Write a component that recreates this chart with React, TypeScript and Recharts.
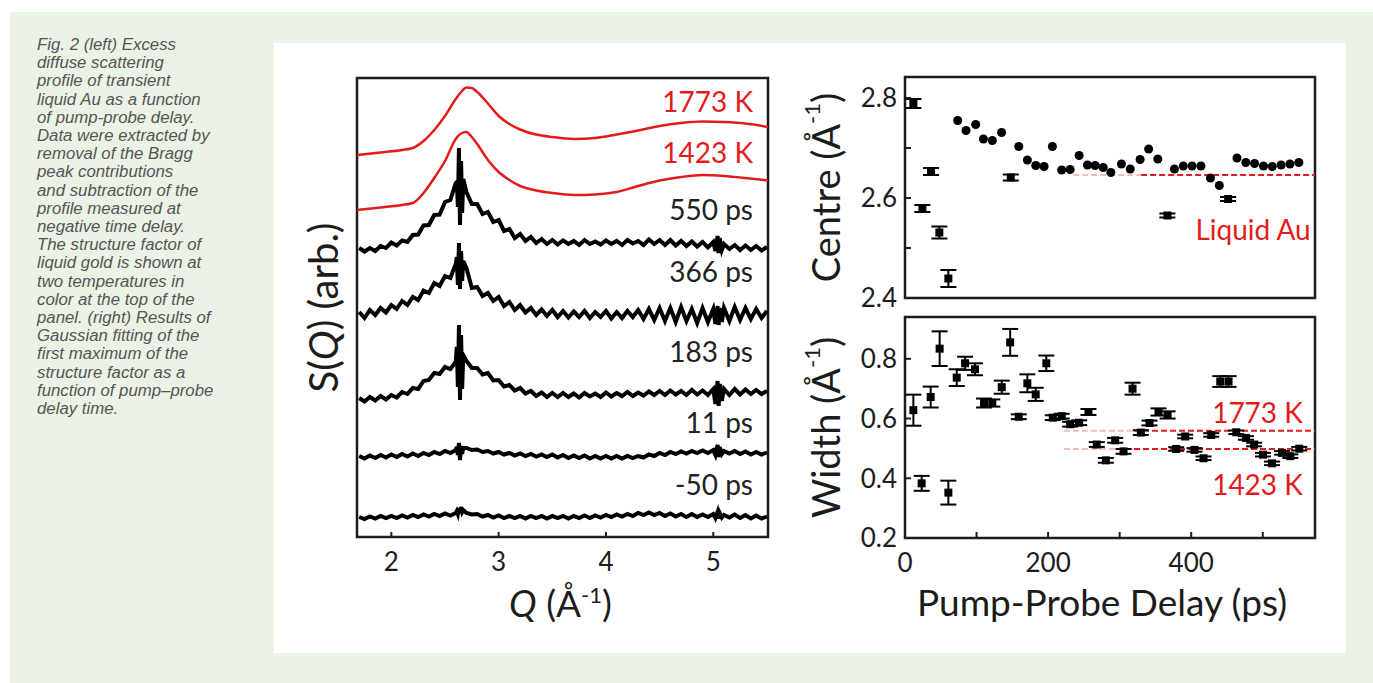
import React from 'react';
import {
  LineChart, Line, XAxis, YAxis, ReferenceArea, ReferenceDot, ReferenceLine,
  ScatterChart, Scatter, ErrorBar, Label,
} from 'recharts';

const FONT = 'Lato, "Noto Sans", sans-serif';
const INK = '#1c1c1c';
const RED = '#e31b1b';

// ---------- caption ----------
const captionLines = [
  'Fig. 2 (left) Excess',
  'diffuse scattering',
  'profile of transient',
  'liquid Au as a function',
  'of pump-probe delay.',
  'Data were extracted by',
  'removal of the Bragg',
  'peak contributions',
  'and subtraction of the',
  'profile measured at',
  'negative time delay.',
  'The structure factor of',
  'liquid gold is shown at',
  'two temperatures in',
  'color at the top of the',
  'panel. (right) Results of',
  'Gaussian fitting of the',
  'first maximum of the',
  'structure factor as a',
  'function of pump\u2013probe',
  'delay time.',
];

// ---------- left panel: S(Q) traces (offset, arb. units) ----------
const qGrid = [
  1.70, 1.75, 1.80, 1.85, 1.90, 1.95, 2.00, 2.05, 2.10, 2.15, 2.20, 2.25, 2.30, 2.35, 2.40, 2.45, 2.50, 2.55, 2.60,
  2.61, 2.62, 2.63, 2.64, 2.65, 2.66, 2.67,
  2.70, 2.75, 2.80, 2.85, 2.90, 2.95, 3.00, 3.05, 3.10, 3.15, 3.20, 3.25, 3.30, 3.35, 3.40, 3.45, 3.50,
  3.55, 3.60, 3.65, 3.70, 3.75, 3.80, 3.85, 3.90, 3.95, 4.00, 4.05, 4.10, 4.15, 4.20, 4.25, 4.30, 4.35, 4.40, 4.45, 4.50,
  4.55, 4.60, 4.65, 4.70, 4.75, 4.80, 4.85, 4.90, 4.95, 5.00,
  5.02, 5.04, 5.05, 5.06, 5.08,
  5.10, 5.15, 5.20, 5.25, 5.30, 5.35, 5.40, 5.45, 5.50,
];

const s550 = [
  28.9, 28.55, 28.9, 28.6, 29.1, 28.9, 29.45, 29.15, 29.65, 29.5, 30.2, 30.25, 31.15, 31.2, 32.2, 32.25, 33.5, 33.7, 35.4,
  35.5, 33.0, 38.9, 31.2, 37.6, 32.4, 35.8,
  34.5, 33.3, 33.3, 32.3, 32.5, 31.5, 31.7, 30.6, 30.8, 29.9, 30.3, 29.6, 30.0, 29.4, 29.8, 29.3, 29.7,
  29.25, 29.65, 29.3, 29.6, 29.2, 29.7, 29.3, 29.55, 29.25, 29.65, 29.3, 29.6, 29.2, 29.7, 29.35, 29.6, 29.2, 29.75, 29.3, 29.7,
  29.2, 29.7, 29.15, 29.6, 29.1, 29.55, 29.05, 29.5, 28.95, 29.5,
  28.6, 30.1, 28.4, 29.9, 28.7,
  29.3, 28.8, 29.2, 28.7, 29.15, 28.7, 29.1, 28.65, 29.0,
];

const s366 = [
  22.5, 21.9, 22.7, 22.2, 22.9, 22.45, 23.2, 22.8, 23.6, 23.2, 24.0, 23.7, 24.65, 24.4, 25.4, 25.1, 26.1, 25.9, 27.3,
  28.0, 25.2, 29.4, 24.8, 28.6, 25.6, 27.6,
  26.9, 24.9, 25.0, 24.1, 24.4, 23.6, 24.0, 23.1, 23.5, 22.7, 23.2, 22.45, 22.9, 22.2, 22.75, 22.1, 22.7,
  22.0, 22.6, 21.95, 22.55, 22.0, 22.6, 21.9, 22.5, 22.0, 22.6, 21.85, 22.5, 21.9, 22.6, 22.0, 22.7, 21.8, 22.8, 21.7, 22.9,
  21.6, 22.9, 21.5, 23.0, 21.6, 22.8, 21.4, 22.9, 21.5, 22.8,
  21.3, 23.1, 21.2, 22.9, 21.5,
  22.9, 21.6, 23.0, 21.7, 22.9, 21.8, 22.8, 21.9, 22.6,
];

const s183 = [
  13.9, 13.55, 14.0, 13.65, 14.1, 13.75, 14.2, 13.95, 14.5, 14.3, 14.9, 14.8, 15.6, 15.7, 16.4, 16.3, 17.0, 16.8, 17.5,
  19.0, 15.0, 21.2, 13.7, 20.2, 14.8, 18.2,
  17.6, 16.9, 16.9, 16.25, 16.4, 15.65, 15.7, 15.05, 15.2, 14.65, 14.9, 14.35, 14.6, 14.1, 14.45, 14.0, 14.4,
  14.0, 14.4, 14.0, 14.35, 13.95, 14.4, 14.05, 14.35, 14.0, 14.45, 14.05, 14.4, 14.1, 14.5, 14.1, 14.45, 14.15, 14.55, 14.2, 14.6,
  14.2, 14.65, 14.25, 14.6, 14.2, 14.7, 14.25, 14.65, 14.2, 14.8,
  13.3, 15.6, 13.1, 15.3, 13.6,
  14.8, 14.2, 14.8, 14.25, 14.75, 14.3, 14.7, 14.3, 14.6,
];

const s11 = [
  8.1, 7.85, 8.15, 7.9, 8.2, 7.95, 8.25, 8.0, 8.3, 8.05, 8.35, 8.1, 8.4, 8.2, 8.5, 8.3, 8.6, 8.4, 8.7,
  9.0, 8.2, 9.4, 7.7, 9.1, 8.3, 8.9,
  8.9, 8.7, 8.75, 8.5, 8.6, 8.35, 8.5, 8.25, 8.4, 8.15, 8.35, 8.1, 8.3, 8.05, 8.25, 8.0, 8.25,
  7.95, 8.2, 7.9, 8.15, 7.9, 8.15, 7.85, 8.1, 7.85, 8.1, 7.85, 8.1, 7.85, 8.1, 7.9, 8.1, 7.95, 8.25, 8.1, 8.4,
  8.2, 8.5, 8.3, 8.55, 8.35, 8.6, 8.4, 8.65, 8.4, 8.7,
  8.2, 9.2, 8.0, 9.0, 8.3,
  8.6, 8.35, 8.6, 8.3, 8.55, 8.25, 8.5, 8.25, 8.45,
];

const sMinus50 = [
  2.0, 1.8, 2.05, 1.85, 2.1, 1.9, 2.1, 1.9, 2.15, 1.95, 2.2, 2.0, 2.25, 2.05, 2.3, 2.1, 2.35, 2.15, 2.4,
  2.6, 2.3, 2.9, 2.4, 3.0, 2.5, 2.7,
  2.4, 2.25, 2.3, 2.05, 2.2, 1.95, 2.15, 1.9, 2.1, 1.9, 2.1, 1.85, 2.1, 1.9, 2.1, 1.85, 2.1,
  1.9, 2.1, 1.85, 2.1, 1.9, 2.15, 1.9, 2.15, 1.95, 2.2, 2.0, 2.25, 2.05, 2.3, 2.1, 2.4, 2.2, 2.45, 2.2, 2.4,
  2.1, 2.35, 2.05, 2.3, 2.0, 2.3, 2.0, 2.25, 2.0, 2.3,
  1.9, 2.5, 1.85, 2.4, 1.95,
  2.2, 1.95, 2.25, 1.9, 2.2, 1.85, 2.15, 1.85, 2.05,
];

// liquid Au structure factor (red curves)
const qRed = [1.68, 1.9, 2.1, 2.2, 2.3, 2.4, 2.5, 2.6, 2.65, 2.7, 2.75, 2.8, 2.9, 3.0, 3.1, 3.2, 3.35, 3.5, 3.7, 3.9, 4.1, 4.3, 4.5, 4.7, 4.9, 5.1, 5.3, 5.51];
const s1773K = [38.2, 38.45, 38.7, 38.9, 39.6, 40.7, 42.1, 43.8, 44.5, 44.95, 44.9, 44.5, 43.35, 42.1, 41.3, 40.75, 40.25, 40.0, 39.8, 39.9, 40.25, 40.65, 41.1, 41.4, 41.55, 41.5, 41.35, 41.0];
const s1423K = [32.7, 32.95, 33.2, 33.4, 34.4, 35.9, 37.6, 39.8, 40.35, 40.5, 40.0, 39.3, 37.7, 36.5, 35.7, 35.1, 34.65, 34.4, 34.2, 34.25, 34.5, 35.1, 35.65, 36.0, 36.2, 36.1, 35.9, 35.65];

const qTicks = [2, 3, 4, 5];
const traceNames = ['1773 K', '1423 K', '550 ps', '366 ps', '183 ps', '11 ps', '-50 ps'];
const traceTagLevels = [42.5, 37.4, 31.7, 25.5, 17.5, 10.4, 4.2];

// ---------- right panels ----------
const centreSquareT = [11.7, 24.3, 36.4, 48.0, 60.6, 147.8, 366.7, 451.6];
const centreSquareC = [2.789, 2.579, 2.653, 2.531, 2.439, 2.641, 2.565, 2.598];
const centreSquareErr = [0.009, 0.007, 0.007, 0.012, 0.017, 0.006, 0.004, 0.004];

const centreCircleT = [73.6, 85.3, 98.8, 109.6, 122.0, 135.0, 159.0, 171.0, 182.7, 194.4, 206.0, 219.0, 230.8, 243.4, 255.0, 265.7, 277.0, 287.7, 302.5, 314.8, 328.6, 340.5, 353.3, 376.5, 388.9, 401.2, 413.6, 426.9, 439.3, 464.0, 476.3, 488.6, 501.0, 513.3, 525.7, 538.0, 550.4];
const centreCircleC = [2.755, 2.735, 2.747, 2.718, 2.715, 2.731, 2.703, 2.676, 2.665, 2.663, 2.703, 2.656, 2.657, 2.685, 2.666, 2.665, 2.661, 2.651, 2.668, 2.658, 2.677, 2.698, 2.678, 2.658, 2.664, 2.664, 2.664, 2.64, 2.625, 2.68, 2.671, 2.669, 2.664, 2.663, 2.666, 2.668, 2.671];

const widthT = [11.7, 23.3, 35.9, 48.4, 60.6, 72.3, 84.0, 97.8, 110.5, 122.0, 135.2, 147.0, 159.0, 171.0, 182.7, 197.5, 206.5, 219.0, 230.8, 243.4, 256.4, 268.0, 280.7, 293.7, 305.4, 318.0, 329.6, 341.7, 354.3, 367.0, 379.0, 391.6, 404.6, 417.2, 428.0, 440.6, 452.2, 463.0, 476.5, 488.0, 500.3, 512.9, 527.0, 538.5, 551.0];
const widthW = [0.628, 0.383, 0.672, 0.834, 0.352, 0.737, 0.785, 0.765, 0.652, 0.652, 0.705, 0.855, 0.606, 0.718, 0.681, 0.785, 0.603, 0.608, 0.581, 0.586, 0.622, 0.513, 0.46, 0.527, 0.49, 0.70, 0.553, 0.585, 0.622, 0.612, 0.498, 0.54, 0.495, 0.467, 0.545, 0.724, 0.724, 0.554, 0.535, 0.513, 0.479, 0.45, 0.485, 0.474, 0.499];
const widthErr = [0.052, 0.025, 0.035, 0.058, 0.04, 0.028, 0.022, 0.02, 0.015, 0.012, 0.022, 0.045, 0.008, 0.03, 0.022, 0.026, 0.008, 0.008, 0.008, 0.008, 0.01, 0.008, 0.008, 0.008, 0.008, 0.02, 0.008, 0.008, 0.012, 0.012, 0.006, 0.006, 0.006, 0.006, 0.006, 0.018, 0.018, 0.006, 0.006, 0.006, 0.006, 0.006, 0.006, 0.006, 0.006];

const liquidAuCentre = 2.646;
const width1773K = 0.559;
const width1423K = 0.498;
const delayTicks = [0, 100, 200, 300, 400, 500];

// ---------- tables built from the arrays ----------
const traceTable = qGrid.map((q, i) => ({
  q, p550: s550[i], p366: s366[i], p183: s183[i], p11: s11[i], pm50: sMinus50[i],
}));
const redTable = qRed.map((q, i) => ({ q, k1773: s1773K[i], k1423: s1423K[i] }));
const centreSquares = centreSquareT.map((t, i) => ({ t, c: centreSquareC[i], e: centreSquareErr[i] }));
const centreCircles = centreCircleT.map((t, i) => ({ t, c: centreCircleC[i] }));
const widthPts = widthT.map((t, i) => ({ t, w: widthW[i], e: widthErr[i] }));

// ---------- helpers ----------
const tickFont = { fontSize: 26, fill: INK, fontFamily: FONT };
const tickLineStyle = { stroke: INK, strokeWidth: 2 };

const tagAt = (text: string, color: string, size = 28) => (p: any) => {
  const vb = p.viewBox || { x: 0, y: 0 };
  return (
    <text x={vb.x} y={vb.y} textAnchor="end" fontFamily={FONT} fontSize={size} fill={color}>
      {text}
    </text>
  );
};

const leftYTitle = (p: any) => {
  const vb = p.viewBox;
  const cx = vb.x + 43;
  const cy = vb.y + vb.height / 2;
  return (
    <text transform={`rotate(-90 ${cx} ${cy})`} x={cx} y={cy} textAnchor="middle"
      dominantBaseline="central" fontFamily={FONT} fontSize={40} fill={INK}>
      S(<tspan fontStyle="italic">Q</tspan>) (arb.)
    </text>
  );
};

const leftXTitle = (p: any) => {
  const vb = p.viewBox;
  const cx = vb.x + vb.width / 2 - 2;
  const y = vb.y + 80;
  return (
    <text x={cx} y={y} textAnchor="middle" fontFamily={FONT} fontSize={37} fill={INK}>
      <tspan fontStyle="italic">Q</tspan> (Å<tspan dy={-14} fontSize={22}>-1</tspan><tspan dy={14}>)</tspan>
    </text>
  );
};

const rightYTitle = (word: string) => (p: any) => {
  const vb = p.viewBox;
  const cx = vb.x + 35;
  const cy = vb.y + vb.height / 2;
  return (
    <text transform={`rotate(-90 ${cx} ${cy})`} x={cx} y={cy} textAnchor="middle"
      dominantBaseline="central" fontFamily={FONT} fontSize={38} fill={INK}>
      {word} (Å<tspan dy={-14} fontSize={22}>-1</tspan><tspan dy={14}>)</tspan>
    </text>
  );
};

const delayTitle = (p: any) => {
  const vb = p.viewBox;
  const cx = vb.x + vb.width / 2 - 8;
  const y = vb.y + 78;
  return (
    <text x={cx} y={y} textAnchor="middle" fontFamily={FONT} fontSize={37} fill={INK}>
      Pump-Probe Delay (ps)
    </text>
  );
};

const traceKeys = ['k1773', 'k1423', 'p550', 'p366', 'p183', 'p11', 'pm50'];
const BLACK_W = 4;

export default function App() {
  return (
    <div style={{ position: 'absolute', left: 0, top: 0, width: 1373, height: 683, background: '#ffffff', overflow: 'hidden' }}>
      <div style={{ position: 'absolute', left: 10, top: 12, width: 1363, height: 671, background: '#ebf2e6' }} />
      <div style={{
        position: 'absolute', left: 37, top: 36, fontFamily: '"Liberation Sans", Arial, sans-serif',
        fontStyle: 'italic', fontSize: 16.8, lineHeight: '18.2px', color: '#555555', whiteSpace: 'nowrap',
      }}>
        {captionLines.map((l, i) => <div key={i}>{l}</div>)}
      </div>
      <div style={{ position: 'absolute', left: 274, top: 43, width: 1072, height: 610, background: '#ffffff' }} />

      {/* left panel */}
      <div style={{ position: 'absolute', left: 280, top: 60 }}>
        <LineChart width={500} height={580} margin={{ top: 18, right: 12, bottom: 0, left: 0 }}>
          <XAxis type="number" dataKey="q" domain={[1.68, 5.51]} ticks={qTicks} interval={0} allowDataOverflow
            height={103} axisLine={false} tickSize={-5} tickMargin={21} tick={tickFont} tickLine={tickLineStyle}>
            <Label content={leftXTitle} />
          </XAxis>
          <YAxis type="number" domain={[0, 45.9]} allowDataOverflow width={77} tick={false} axisLine={false} tickLine={false}>
            <Label content={leftYTitle} />
          </YAxis>
          <ReferenceArea x1={1.68} x2={5.51} y1={0} y2={45.9} fill="none" stroke={INK} strokeWidth={2.5} />
          <Line data={redTable} dataKey="k1773" type="monotone" stroke={RED} strokeWidth={2.5} dot={false} isAnimationActive={false} />
          <Line data={redTable} dataKey="k1423" type="monotone" stroke={RED} strokeWidth={2.5} dot={false} isAnimationActive={false} />
          <Line data={traceTable} dataKey="p550" type="linear" stroke="#000" strokeWidth={BLACK_W} dot={false} isAnimationActive={false} />
          <Line data={traceTable} dataKey="p366" type="linear" stroke="#000" strokeWidth={BLACK_W} dot={false} isAnimationActive={false} />
          <Line data={traceTable} dataKey="p183" type="linear" stroke="#000" strokeWidth={BLACK_W} dot={false} isAnimationActive={false} />
          <Line data={traceTable} dataKey="p11" type="linear" stroke="#000" strokeWidth={BLACK_W} dot={false} isAnimationActive={false} />
          <Line data={traceTable} dataKey="pm50" type="linear" stroke="#000" strokeWidth={BLACK_W} dot={false} isAnimationActive={false} />
          {traceNames.map((n, i) => (
            <ReferenceDot key={traceKeys[i]} x={5.37} y={traceTagLevels[i]} r={0} fill="none" stroke="none"
              label={{ content: tagAt(n, i < 2 ? RED : '#222') }} />
          ))}
        </LineChart>
      </div>

      {/* right top: centre */}
      <div style={{ position: 'absolute', left: 790, top: 60 }}>
        <ScatterChart width={540} height={264} margin={{ top: 17, right: 15, bottom: 0, left: 0 }}>
          <XAxis type="number" dataKey="t" domain={[0, 573]} ticks={delayTicks} interval={0} allowDataOverflow
            height={26} axisLine={false} tickSize={-6} tick={false} tickLine={tickLineStyle} />
          <YAxis type="number" dataKey="c" domain={[2.4, 2.842]} ticks={[2.4, 2.5, 2.6, 2.7, 2.8]} interval={0} allowDataOverflow
            width={115} axisLine={false} tickSize={-6} tickMargin={14} tick={tickFont} tickLine={tickLineStyle}
            tickFormatter={(v: number) => (Math.round(v * 10) % 2 === 0 ? v.toFixed(1) : '')}>
            <Label content={rightYTitle('Centre')} />
          </YAxis>
          <ReferenceArea x1={0} x2={573} y1={2.4} y2={2.842} fill="none" stroke={INK} strokeWidth={2.5} />
          <ReferenceLine segment={[{ x: 235, y: liquidAuCentre }, { x: 330, y: liquidAuCentre }]} stroke={RED} strokeOpacity={0.3} strokeWidth={2} strokeDasharray="6 3" />
          <ReferenceLine segment={[{ x: 330, y: liquidAuCentre }, { x: 573, y: liquidAuCentre }]} stroke={RED} strokeWidth={2} strokeDasharray="6 3" />
          <Scatter data={centreSquares} shape="square" fill="#000" isAnimationActive={false}>
            <ErrorBar dataKey="e" direction="y" width={8} stroke="#000" strokeWidth={2} isAnimationActive={false} />
          </Scatter>
          <Scatter data={centreCircles} shape="circle" fill="#000" isAnimationActive={false} />
          <ReferenceDot x={567} y={2.516} r={0} fill="none" stroke="none" label={{ content: tagAt('Liquid Au', RED) }} />
        </ScatterChart>
      </div>

      {/* right bottom: width */}
      <div style={{ position: 'absolute', left: 790, top: 300 }}>
        <ScatterChart width={540} height={340} margin={{ top: 17, right: 15, bottom: 0, left: 0 }}>
          <XAxis type="number" dataKey="t" domain={[0, 573]} ticks={delayTicks} interval={0} allowDataOverflow
            height={102} axisLine={false} tickSize={-6} tickMargin={22} tick={tickFont} tickLine={tickLineStyle}
            tickFormatter={(v: number) => (v % 200 === 0 ? String(v) : '')}>
            <Label content={delayTitle} />
          </XAxis>
          <YAxis type="number" dataKey="w" domain={[0.2, 0.94]} ticks={[0.2, 0.4, 0.6, 0.8]} interval={0} allowDataOverflow
            width={115} axisLine={false} tickSize={-6} tickMargin={14} tick={tickFont} tickLine={tickLineStyle}
            tickFormatter={(v: number) => v.toFixed(1)}>
            <Label content={rightYTitle('Width')} />
          </YAxis>
          <ReferenceArea x1={0} x2={573} y1={0.2} y2={0.94} fill="none" stroke={INK} strokeWidth={2.5} />
          <ReferenceLine segment={[{ x: 222, y: width1773K }, { x: 320, y: width1773K }]} stroke={RED} strokeOpacity={0.3} strokeWidth={2} strokeDasharray="6 3" />
          <ReferenceLine segment={[{ x: 320, y: width1773K }, { x: 573, y: width1773K }]} stroke={RED} strokeWidth={2} strokeDasharray="6 3" />
          <ReferenceLine segment={[{ x: 222, y: width1423K }, { x: 320, y: width1423K }]} stroke={RED} strokeOpacity={0.3} strokeWidth={2} strokeDasharray="6 3" />
          <ReferenceLine segment={[{ x: 320, y: width1423K }, { x: 573, y: width1423K }]} stroke={RED} strokeWidth={2} strokeDasharray="6 3" />
          <Scatter data={widthPts} shape="square" fill="#000" isAnimationActive={false}>
            <ErrorBar dataKey="e" direction="y" width={8} stroke="#000" strokeWidth={2} isAnimationActive={false} />
          </Scatter>
          <ReferenceDot x={556} y={0.585} r={0} fill="none" stroke="none" label={{ content: tagAt('1773 K', RED) }} />
          <ReferenceDot x={556} y={0.344} r={0} fill="none" stroke="none" label={{ content: tagAt('1423 K', RED) }} />
        </ScatterChart>
      </div>
    </div>
  );
}
